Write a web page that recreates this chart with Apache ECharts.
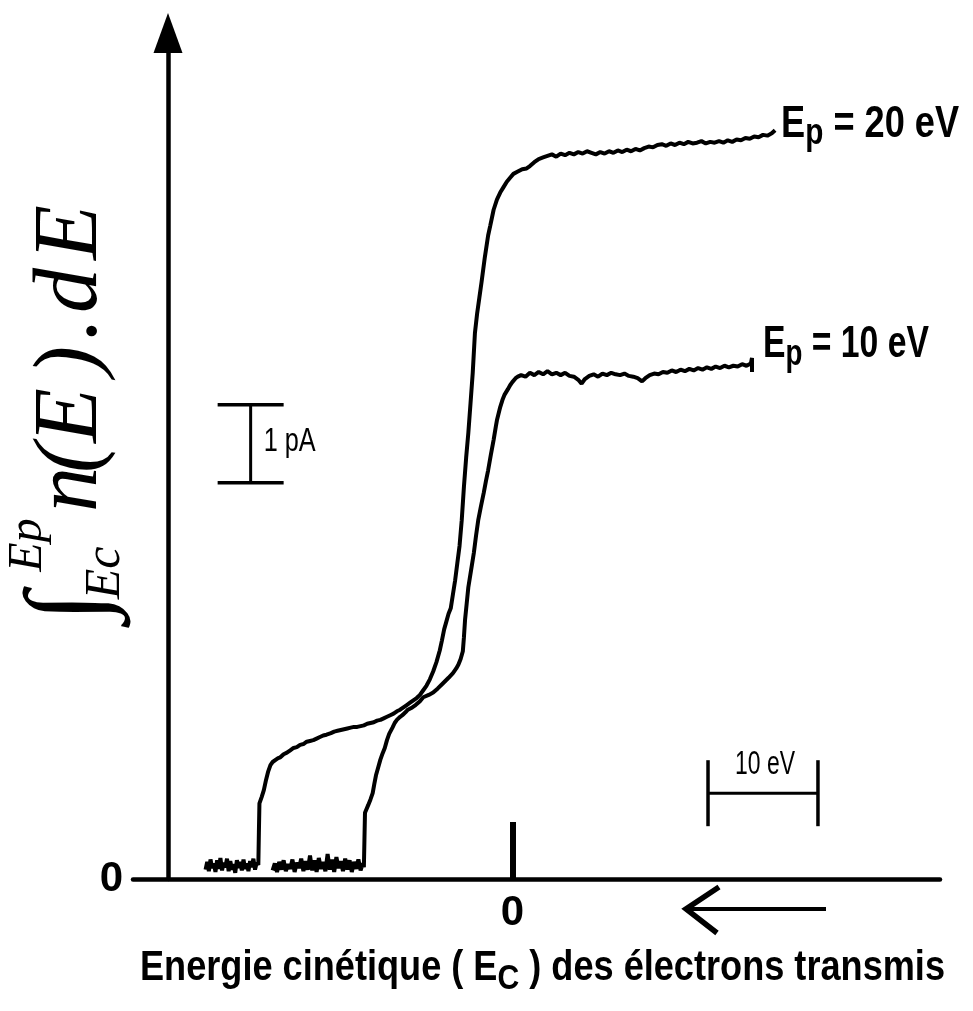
<!DOCTYPE html>
<html>
<head>
<meta charset="utf-8">
<script src="https://cdn.jsdelivr.net/npm/echarts@6/dist/echarts.min.js"></script>
<style>
  html, body { margin: 0; padding: 0; background: #fff; }
  #chart { width: 973px; height: 1011px; }
</style>
</head>
<body>
<div id="chart"></div>
<script>
// Integrated transmitted current (pA) versus kinetic energy Ec (eV), 0 at the marked tick,
// energy increasing to the left.
const ep20Trace = [
  [27.9,0.12],[27.75,0.22],[27.6,0.10],[27.45,0.25],[27.3,0.14],[27.15,0.20],[27.0,0.09],[26.85,0.24],
  [26.7,0.13],[26.55,0.27],[26.4,0.11],[26.25,0.21],[26.1,0.15],[25.95,0.26],[25.8,0.10],[25.65,0.23],
  [25.5,0.12],[25.35,0.19],[25.2,0.08],[25.05,0.24],[24.9,0.14],[24.75,0.22],[24.6,0.11],[24.45,0.25],
  [24.3,0.13],[24.15,0.20],[24.0,0.10],[23.85,0.23],[23.7,0.15],[23.55,0.26],[23.4,0.12],[23.25,0.21],
  [23.1,0.18],[23.05,0.60],[23.0,0.97],[22.8,1.05],[22.6,1.14],[22.4,1.27],[22.2,1.38],[22.0,1.46],
  [21.8,1.50],[21.5,1.53],[21.3,1.55],[21.1,1.56],[20.8,1.60],[20.5,1.62],[20.2,1.65],[19.9,1.68],
  [19.6,1.69],[19.3,1.72],[19.0,1.73],[18.7,1.76],[18.4,1.77],[18.1,1.78],[17.8,1.80],[17.5,1.82],
  [17.2,1.84],[16.9,1.85],[16.5,1.87],[16.2,1.89],[15.9,1.90],[15.6,1.91],[15.3,1.92],[15.0,1.93],
  [14.7,1.94],[14.4,1.95],[14.1,1.95],[13.8,1.96],[13.5,1.97],[13.2,1.99],[12.9,2.00],[12.6,2.01],
  [12.3,2.03],[12.0,2.04],[11.7,2.06],[11.4,2.08],[11.1,2.10],[10.8,2.12],[10.5,2.15],[10.2,2.17],
  [9.9,2.20],[9.6,2.23],[9.3,2.26],[9.0,2.29],[8.7,2.32],[8.4,2.36],[8.1,2.42],[7.8,2.48],
  [7.5,2.56],[7.2,2.66],[6.9,2.78],[6.6,2.93],[6.4,3.06],[6.2,3.20],[6.0,3.30],[5.8,3.40],
  [5.6,3.47],[5.4,3.65],[5.2,3.83],[5.0,4.05],[4.8,4.27],[4.6,4.60],[4.4,5.03],[4.2,5.40],
  [4.0,5.72],[3.8,6.10],[3.6,6.49],[3.4,7.00],[3.2,7.25],[3.0,7.45],[2.8,7.65],[2.5,7.97],
  [2.2,8.25],[2.0,8.38],[1.7,8.58],[1.4,8.71],[1.1,8.80],[0.8,8.87],[0.5,8.94],[0.2,8.99],
  [-0.1,9.04],[-0.5,9.07],[-0.9,9.10],[-1.3,9.11],[-1.6,9.14],[-2.0,9.19],[-2.4,9.23],[-2.8,9.25],
  [-3.2,9.27],[-3.6,9.29],[-4.0,9.26],[-4.4,9.30],[-4.8,9.28],[-5.2,9.31],[-5.6,9.29],[-6.0,9.32],
  [-6.4,9.30],[-6.8,9.33],[-7.2,9.31],[-7.6,9.29],[-8.0,9.32],[-8.4,9.30],[-8.8,9.33],[-9.2,9.31],
  [-9.6,9.34],[-10.0,9.32],[-10.4,9.35],[-10.8,9.33],[-11.2,9.36],[-11.6,9.34],[-12.0,9.37],[-12.4,9.39],
  [-12.8,9.38],[-13.2,9.41],[-13.6,9.42],[-14.0,9.40],[-14.4,9.43],[-14.8,9.41],[-15.2,9.44],[-15.6,9.42],
  [-16.0,9.45],[-16.4,9.43],[-16.8,9.44],[-17.2,9.46],[-17.6,9.43],[-18.0,9.45],[-18.4,9.44],[-18.8,9.46],
  [-19.2,9.44],[-19.6,9.47],[-20.0,9.45],[-20.4,9.48],[-20.8,9.47],[-21.2,9.50],[-21.6,9.49],[-22.0,9.52],
  [-22.4,9.51],[-22.8,9.54],[-23.2,9.53],[-23.6,9.56],[-23.9,9.60]
];

const ep10Trace = [
  [21.8,0.11],[21.6,0.20],[21.4,0.09],[21.2,0.22],[21.0,0.12],[20.8,0.24],[20.6,0.10],[20.4,0.19],
  [20.2,0.13],[20.0,0.25],[19.8,0.09],[19.6,0.21],[19.4,0.14],[19.2,0.26],[19.0,0.10],[18.8,0.23],
  [18.6,0.12],[18.4,0.30],[18.2,0.11],[18.0,0.24],[17.8,0.09],[17.6,0.27],[17.4,0.13],[17.2,0.22],
  [17.0,0.10],[16.8,0.32],[16.6,0.12],[16.4,0.25],[16.2,0.09],[16.0,0.28],[15.8,0.14],[15.6,0.23],
  [15.4,0.10],[15.2,0.26],[15.0,0.12],[14.8,0.24],[14.6,0.09],[14.4,0.22],[14.2,0.13],[14.0,0.25],
  [13.8,0.11],[13.6,0.20],[13.5,0.15],[13.45,0.50],[13.4,0.85],[13.1,0.95],[12.9,1.02],[12.7,1.10],
  [12.55,1.22],[12.4,1.33],[12.2,1.43],[12.0,1.53],[11.8,1.61],[11.6,1.68],[11.4,1.78],[11.2,1.86],
  [10.9,1.94],[10.7,2.00],[10.5,2.04],[10.2,2.08],[10.0,2.10],[9.7,2.14],[9.5,2.17],[9.1,2.20],
  [8.8,2.23],[8.4,2.28],[8.1,2.33],[7.6,2.36],[7.2,2.39],[6.8,2.44],[6.3,2.51],[5.8,2.58],
  [5.4,2.64],[5.1,2.70],[4.9,2.75],[4.7,2.82],[4.5,2.92],[4.4,3.10],[4.3,3.32],[4.15,3.53],
  [4.0,3.74],[3.75,3.96],[3.5,4.18],[3.3,4.40],[3.1,4.60],[2.85,4.78],[2.6,4.95],[2.4,5.10],
  [2.2,5.24],[1.95,5.44],[1.7,5.63],[1.5,5.80],[1.4,5.88],[1.1,6.05],[0.9,6.14],[0.7,6.21],
  [0.4,6.28],[0.2,6.33],[0.0,6.37],[-0.3,6.42],[-0.5,6.44],[-0.8,6.46],[-1.2,6.44],[-1.6,6.49],
  [-2.0,6.46],[-2.4,6.50],[-2.8,6.47],[-3.2,6.51],[-3.6,6.47],[-4.0,6.49],[-4.4,6.46],[-4.8,6.49],
  [-5.2,6.45],[-5.6,6.44],[-6.0,6.40],[-6.3,6.35],[-6.6,6.41],[-7.0,6.45],[-7.4,6.47],[-7.8,6.44],
  [-8.2,6.48],[-8.6,6.46],[-9.0,6.49],[-9.4,6.47],[-9.8,6.46],[-10.2,6.48],[-10.6,6.45],[-11.0,6.44],
  [-11.4,6.42],[-11.8,6.38],[-12.1,6.42],[-12.5,6.46],[-12.9,6.48],[-13.3,6.47],[-13.7,6.50],[-14.1,6.49],
  [-14.5,6.52],[-14.9,6.50],[-15.3,6.53],[-15.7,6.51],[-16.1,6.54],[-16.5,6.52],[-16.9,6.55],[-17.3,6.53],
  [-17.7,6.56],[-18.1,6.54],[-18.5,6.57],[-18.9,6.55],[-19.3,6.58],[-19.7,6.56],[-20.1,6.58],[-20.5,6.57],
  [-20.9,6.60],[-21.3,6.58],[-21.7,6.61],[-21.8,6.68],[-21.8,6.50]
];

const seriesNames = ['Ep = 20 eV', 'Ep = 10 eV'];
const zeroTicks = [0];

// Scale bars: 1 pA vertical, 10 eV horizontal
const CURRENT_SCALE_PA = 1;
const ENERGY_SCALE_EV = 10;
const currentBarBase = [[23.8, 5.08]];
const energyBarStart = [[-17.8, 1.10]];

const SANS = '"Liberation Sans", Arial, sans-serif';
const SERIF = '"Liberation Serif", "DejaVu Serif", serif';

// Text measurement, used to set condensed widths for the labels
const measureCtx = document.createElement('canvas').getContext('2d');
function textWidth(font, text) {
  measureCtx.font = font;
  return measureCtx.measureText(text).width;
}

// A run of text pieces (with optional sub-script drops) squeezed horizontally to a given width
function condensedRun(id, left, midY, pieces, targetWidth) {
  let cursor = 0;
  const children = pieces.map(p => {
    const el = {
      type: 'text', x: cursor, y: p.dy || 0,
      style: { text: p.text, font: p.font, fill: '#000', align: 'left', verticalAlign: 'middle' }
    };
    cursor += textWidth(p.font, p.text);
    return el;
  });
  return { id: id, type: 'group', x: left, y: midY, scaleX: targetWidth / cursor, scaleY: 1, silent: true, children: children };
}

function traceLabelPieces(name) {
  const value = name.split(' = ')[1];
  return [
    { text: 'E', font: 'bold 45px ' + SANS },
    { text: 'p', font: 'bold 37px ' + SANS, dy: 10 },
    { text: ' = ' + value, font: 'bold 45px ' + SANS }
  ];
}

const chart = echarts.init(document.getElementById('chart'), null, { renderer: 'canvas' });

const option = {
  animation: false,
  backgroundColor: '#fff',
  grid: { left: 133, right: 33, top: 33, bottom: 132, outerBoundsMode: 'none', containLabel: false },
  xAxis: {
    type: 'value',
    inverse: true,
    min: -38.9,
    max: 34.5,
    axisLine: { show: true, onZero: false, lineStyle: { color: '#000', width: 4.5 } },
    axisTick: { show: true, customValues: zeroTicks, inside: true, length: 57, lineStyle: { color: '#000', width: 6 } },
    axisLabel: { show: true, customValues: zeroTicks, margin: 13, color: '#000', fontSize: 42, fontWeight: 'bold', fontFamily: SANS },
    splitLine: { show: false }
  },
  yAxis: {
    type: 'value',
    min: 0,
    max: 10.846,
    offset: -35,
    axisLine: { show: true, onZero: false, symbol: ['none', 'triangle'], symbolSize: [29, 40], lineStyle: { color: '#000', width: 4.5 } },
    axisTick: { show: false },
    axisLabel: { show: true, customValues: zeroTicks, margin: 45, color: '#000', fontSize: 42, fontWeight: 'bold', fontFamily: SANS },
    splitLine: { show: false }
  },
  series: [
    { name: seriesNames[0], type: 'line', data: ep20Trace, showSymbol: false, silent: true, lineStyle: { color: '#000', width: 4 } },
    { name: seriesNames[1], type: 'line', data: ep10Trace, showSymbol: false, silent: true, lineStyle: { color: '#000', width: 4 } },
    {
      type: 'custom', silent: true, data: currentBarBase,
      renderItem: function (params, api) {
        const x = api.value(0), y = api.value(1);
        const a = api.coord([x, y]);
        const b = api.coord([x, y + CURRENT_SCALE_PA]);
        const cap = 33;
        const font = '33px ' + SANS;
        const label = CURRENT_SCALE_PA + ' pA';
        return {
          type: 'group',
          children: [
            { type: 'line', shape: { x1: a[0], y1: a[1], x2: b[0], y2: b[1] }, style: { stroke: '#000', lineWidth: 3 } },
            { type: 'line', shape: { x1: a[0] - cap, y1: a[1], x2: a[0] + cap, y2: a[1] }, style: { stroke: '#000', lineWidth: 3.5 } },
            { type: 'line', shape: { x1: b[0] - cap, y1: b[1], x2: b[0] + cap, y2: b[1] }, style: { stroke: '#000', lineWidth: 3.5 } },
            { type: 'text', x: a[0] + 13, y: (a[1] + b[1]) / 2 - 2, scaleX: 52 / textWidth(font, label),
              style: { text: label, font: font, fill: '#000', align: 'left', verticalAlign: 'middle' } }
          ]
        };
      }
    },
    {
      type: 'custom', silent: true, data: energyBarStart,
      renderItem: function (params, api) {
        const x = api.value(0), y = api.value(1);
        const a = api.coord([x, y]);
        const b = api.coord([x - ENERGY_SCALE_EV, y]);
        const cap = 33;
        const font = '34px ' + SANS;
        const label = ENERGY_SCALE_EV + ' eV';
        return {
          type: 'group',
          children: [
            { type: 'line', shape: { x1: a[0], y1: a[1], x2: b[0], y2: b[1] }, style: { stroke: '#000', lineWidth: 3 } },
            { type: 'line', shape: { x1: a[0], y1: a[1] - cap, x2: a[0], y2: a[1] + cap }, style: { stroke: '#000', lineWidth: 3.5 } },
            { type: 'line', shape: { x1: b[0], y1: b[1] - cap, x2: b[0], y2: b[1] + cap }, style: { stroke: '#000', lineWidth: 3.5 } },
            { type: 'text', x: (a[0] + b[0]) / 2 + 2, y: a[1] - 29, scaleX: 60 / textWidth(font, label),
              style: { text: label, font: font, fill: '#000', align: 'center', verticalAlign: 'middle' } }
          ]
        };
      }
    }
  ]
};

chart.setOption(option);

// Labels placed from the chart's own scales once the grid is laid out
const end20 = chart.convertToPixel({ gridIndex: 0 }, ep20Trace[ep20Trace.length - 1]);
const end10 = chart.convertToPixel({ gridIndex: 0 }, ep10Trace[ep10Trace.length - 2]);
const zeroPx = chart.convertToPixel({ gridIndex: 0 }, [0, 0]);

const YFONT = 'italic 90px ' + SERIF;
function yPiece(text, x) {
  return { type: 'text', x: x, y: -30, style: { text: text, font: YFONT, fill: '#000', align: 'left', verticalAlign: 'middle' } };
}
const yTitle = {
  // integral expression read bottom-to-top beside the vertical axis
  id: 'yTitle', type: 'group', x: 102, y: 633, rotation: Math.PI / 2, silent: true,
  children: [
    { type: 'text', x: 26, y: -30, style: { text: '∫', font: 'italic 110px ' + SERIF, fill: '#000', align: 'center', verticalAlign: 'middle' } },
    { type: 'text', x: 88, y: -74, style: { text: 'Ep', font: 'italic 48px ' + SERIF, fill: '#000', align: 'center', verticalAlign: 'middle' } },
    { type: 'text', x: 60, y: 4, style: { text: 'Ec', font: 'italic 50px ' + SERIF, fill: '#000', align: 'center', verticalAlign: 'middle' } },
    yPiece('n', 121),
    yPiece('(', 160),
    yPiece('E', 190),
    yPiece(')', 257),
    yPiece('.', 293),
    yPiece('d', 320),
    yPiece('E', 373)
  ]
};

const xTitle = condensedRun('xTitle', 140, zeroPx[1] + 89, [
  { text: 'Energie cinétique ( E', font: 'bold 42px ' + SANS },
  { text: 'C', font: 'bold 35px ' + SANS, dy: 11 },
  { text: ' ) des électrons transmis', font: 'bold 42px ' + SANS }
], 805);

const label20 = condensedRun('label20', end20[0] + 6, end20[1] - 6, traceLabelPieces(seriesNames[0]), 178);
const label10 = condensedRun('label10', end10[0] + 11, end10[1] - 13, traceLabelPieces(seriesNames[1]), 166);

const directionArrow = {
  // arrow under the energy axis pointing towards increasing Ec
  id: 'arrow', type: 'group', silent: true,
  children: [
    { type: 'polyline', shape: { points: [[826, 909], [690, 909]] }, style: { stroke: '#000', lineWidth: 4, fill: null } },
    { type: 'polyline', shape: { points: [[719, 887], [686, 909], [717, 933]] }, style: { stroke: '#000', lineWidth: 5.5, fill: null, lineJoin: 'miter' } }
  ]
};

chart.setOption({ graphic: [yTitle, xTitle, label20, label10, directionArrow] });
</script>
</body>
</html>
